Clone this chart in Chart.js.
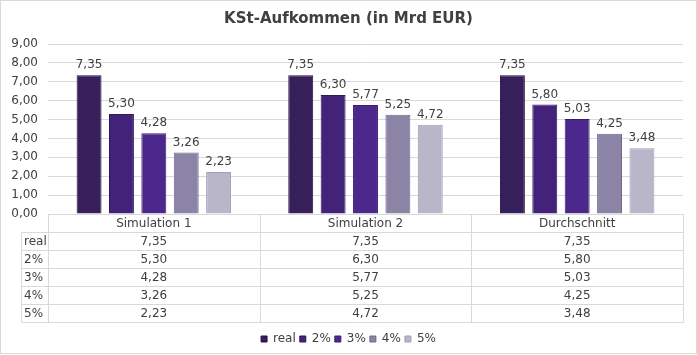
<!DOCTYPE html>
<html>
<head>
<meta charset="utf-8">
<script src="https://cdn.jsdelivr.net/npm/chart.js@4/dist/chart.umd.min.js"></script>
<style>
html,body{margin:0;padding:0;background:#fff;}
#wrap{width:697px;height:355px;position:relative;}
</style>
</head>
<body>
<div id="wrap"><canvas id="c" width="697" height="355"></canvas></div>
<script>
const categories = ['Simulation 1', 'Simulation 2', 'Durchschnitt'];
const seriesNames = ['real', '2%', '3%', '4%', '5%'];
const real = [7.35, 7.35, 7.35];
const pct2 = [5.30, 6.30, 5.80];
const pct3 = [4.28, 5.77, 5.03];
const pct4 = [3.26, 5.25, 4.25];
const pct5 = [2.23, 4.72, 3.48];
const yMin = 0, yMax = 9, yStep = 1;
const titleText = 'KSt-Aufkommen (in Mrd EUR)';

const seriesValues = [real, pct2, pct3, pct4, pct5];
const fills = ['#371f5c', '#43237a', '#4d288c', '#8b84a7', '#bab6c9'];
const borders = ['#24133f', '#2f175a', '#381c6a', '#6f6890', '#a29db5'];
const FONT = "'DejaVu Sans', Verdana, sans-serif";
const TXT = '#404040';
const GRID = '#d9d9d9';
const fmt = v => v.toFixed(2).replace('.', ',');

const ROW_H = 18;
const LABEL_COL_LEFT = 21;

const tablePlugin = {
  id: 'tablePlugin',
  afterDraw(chart) {
    const ctx = chart.ctx;
    const xs = chart.scales.x;
    const area = chart.chartArea;
    const top = Math.round(area.bottom) + 0.5;
    const right = Math.round(area.right) + 0.5;
    const left = Math.round(area.left) + 0.5;
    const n = categories.length;
    const catW = (area.right - area.left) / n;
    ctx.save();
    ctx.strokeStyle = GRID;
    ctx.lineWidth = 1;
    const rows = seriesNames.length;
    const bottom = top + ROW_H * (rows + 1);
    ctx.beginPath();
    ctx.moveTo(left, top); ctx.lineTo(right, top);
    for (let r = 1; r <= rows + 1; r++) {
      const y = top + r * ROW_H;
      ctx.moveTo(LABEL_COL_LEFT + 0.5, y); ctx.lineTo(right, y);
    }
    ctx.moveTo(LABEL_COL_LEFT + 0.5, top + ROW_H); ctx.lineTo(LABEL_COL_LEFT + 0.5, bottom);
    for (let i = 0; i <= n; i++) {
      const cx = xs.getPixelForValue(Math.min(i, n - 1)) + (i === n ? catW / 2 : -catW / 2);
      const x = Math.round(cx) + 0.5;
      ctx.moveTo(x, top); ctx.lineTo(x, bottom);
    }
    ctx.stroke();
    ctx.fillStyle = TXT;
    ctx.font = '12px ' + FONT;
    ctx.textBaseline = 'middle';
    for (let r = 0; r < rows; r++) {
      const yc = top + (r + 1) * ROW_H + ROW_H / 2 + 0.5;
      ctx.textAlign = 'left';
      ctx.fillText(seriesNames[r], LABEL_COL_LEFT + 3, yc);
      ctx.textAlign = 'center';
      for (let i = 0; i < n; i++) {
        ctx.fillText(fmt(seriesValues[r][i]), xs.getPixelForValue(i), yc);
      }
    }
    ctx.restore();
  }
};

const valueLabels = {
  id: 'valueLabels',
  afterDatasetsDraw(chart) {
    const ctx = chart.ctx;
    ctx.save();
    ctx.fillStyle = TXT;
    ctx.font = '12px ' + FONT;
    ctx.textAlign = 'center';
    ctx.textBaseline = 'bottom';
    chart.data.datasets.forEach((ds, di) => {
      chart.getDatasetMeta(di).data.forEach((bar, i) => {
        ctx.fillText(fmt(ds.data[i]), bar.x, bar.y - 4);
      });
    });
    ctx.restore();
  }
};

const frame = {
  id: 'frame',
  beforeDraw(chart) {
    const ctx = chart.ctx;
    ctx.save();
    ctx.fillStyle = '#fff';
    ctx.fillRect(0, 0, chart.width, chart.height);
    ctx.strokeStyle = GRID;
    ctx.lineWidth = 1;
    ctx.strokeRect(0.5, 0.5, chart.width - 1, chart.height - 2);
    ctx.restore();
  }
};

new Chart(document.getElementById('c'), {
  type: 'bar',
  data: {
    labels: categories,
    datasets: seriesNames.map((name, k) => ({
      label: name,
      data: seriesValues[k],
      backgroundColor: fills[k],
      borderColor: borders[k],
      borderWidth: 1,
      categoryPercentage: 0.765,
      barPercentage: 0.77
    }))
  },
  options: {
    responsive: false,
    animation: false,
    devicePixelRatio: 1,
    layout: { padding: { left: 0, right: 0, top: 0, bottom: 0 } },
    scales: {
      x: {
        grid: { display: false, drawTicks: false },
        border: { display: false },
        ticks: { color: TXT, font: { family: FONT, size: 12 }, padding: 3, maxRotation: 0 },
        afterFit(s) { s.height = 115; }
      },
      y: {
        min: yMin, max: yMax,
        grid: { color: GRID, drawTicks: false },
        border: { display: false },
        ticks: { stepSize: yStep, color: TXT, font: { family: FONT, size: 12 }, padding: 10, callback: v => fmt(v) },
        afterFit(s) { s.width = 48; }
      },
      yRight: {
        position: 'right',
        min: yMin, max: yMax,
        grid: { display: false, drawTicks: false },
        border: { display: false },
        ticks: { display: false },
        afterFit(s) { s.width = 14; }
      }
    },
    plugins: {
      title: {
        display: true, text: titleText, color: TXT,
        font: { family: FONT, size: 15, weight: 'bold' },
        padding: { top: 10, bottom: 16 }
      },
      legend: {
        position: 'bottom',
        labels: { color: TXT, font: { family: FONT, size: 12 }, boxWidth: 6, boxHeight: 6, padding: 4 }
      },
      tooltip: { enabled: false }
    }
  },
  plugins: [frame, tablePlugin, valueLabels]
});
</script>
</body>
</html>
